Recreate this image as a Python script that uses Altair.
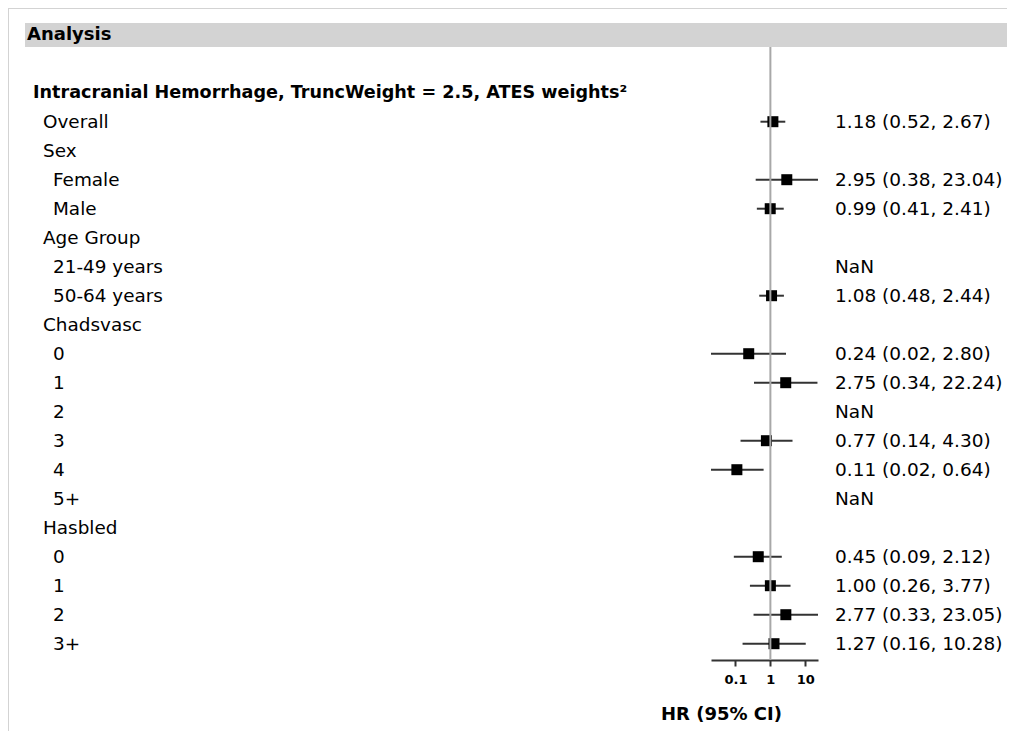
import altair as alt
import pandas as pd

# ---- data ----
HEADER = "Analysis"
AXIS_TITLE = "HR (95% CI)"
row_labels = [
    "Intracranial Hemorrhage, TruncWeight = 2.5, ATES weights²",
    "Overall", "Sex", "Female", "Male", "Age Group", "21-49 years", "50-64 years",
    "Chadsvasc", "0", "1", "2", "3", "4", "5+",
    "Hasbled", "0", "1", "2", "3+",
]
row_level = [0, 1, 1, 2, 2, 1, 2, 2, 1, 2, 2, 2, 2, 2, 2, 1, 2, 2, 2, 2]
hr = [None, 1.18, None, 2.95, 0.99, None, None, 1.08, None, 0.24, 2.75, None, 0.77, 0.11, None,
      None, 0.45, 1.00, 2.77, 1.27]
ci_lower = [None, 0.52, None, 0.38, 0.41, None, None, 0.48, None, 0.02, 0.34, None, 0.14, 0.02, None,
            None, 0.09, 0.26, 0.33, 0.16]
ci_upper = [None, 2.67, None, 23.04, 2.41, None, None, 2.44, None, 2.80, 22.24, None, 4.30, 0.64, None,
            None, 2.12, 3.77, 23.05, 10.28]
x_ticks = [0.1, 1, 10]
x_domain = [0.02, 23.05]

def value_text(h, lo, up, lvl):
    if h is not None:
        return f"{h:.2f} ({lo:.2f}, {up:.2f})"
    return "NaN" if lvl == 2 else ""

df = pd.DataFrame({
    "row": list(range(len(row_labels))),
    "label": row_labels,
    "level": row_level,
    "hr": hr,
    "lo": ci_lower,
    "up": ci_upper,
})
df["vtext"] = [value_text(h, l, u, v) for h, l, u, v in zip(hr, ci_lower, ci_upper, row_level)]

W, H = 999, 652
FONT = "DejaVu Sans"
one = pd.DataFrame({"k": [0]})

xscale = alt.Scale(type="log", domain=x_domain, range=[703, 810], nice=False, zero=False)
yscale = alt.Scale(domain=[0, len(row_labels) - 1], range=[84.7, 84.7 + 29 * (len(row_labels) - 1)])
xaxis = alt.Axis(values=x_ticks, format=".1~f", title=None, grid=False,
                 domainColor="#333333", domainWidth=2, tickColor="#333333", tickWidth=2,
                 tickSize=6, labelFont=FONT, labelFontSize=13, labelFontWeight="bold",
                 labelColor="black", labelPadding=7, labelFlush=False, labelOverlap=False)

base = alt.Chart(df)

border_left = alt.Chart(one).mark_rule(color="#d3d3d3", strokeWidth=2).encode(
    x=alt.value(0), y=alt.value(0), y2=alt.value(740))
border_top = alt.Chart(one).mark_rule(color="#d3d3d3", strokeWidth=2).encode(
    x=alt.value(0), x2=alt.value(W), y=alt.value(0))
header_band = alt.Chart(one).mark_rect(color="#d3d3d3").encode(
    x=alt.value(17), x2=alt.value(1003), y=alt.value(15), y2=alt.value(39))
header_text = alt.Chart(one).mark_text(
    text=HEADER, align="left", baseline="middle", font=FONT, fontSize=18, fontWeight="bold",
    color="black").encode(x=alt.value(19), y=alt.value(27))

ci = base.transform_filter("isValid(datum.hr)").mark_rule(color="#333333", strokeWidth=2).encode(
    x=alt.X("lo:Q", scale=xscale, axis=xaxis),
    x2="up:Q",
    y=alt.Y("row:Q", scale=yscale, axis=None),
)
squares = base.transform_filter("isValid(datum.hr)").mark_point(
    shape="square", filled=True, size=121, color="black", opacity=1).encode(
    x=alt.X("hr:Q", scale=xscale, axis=xaxis),
    y=alt.Y("row:Q", scale=yscale, axis=None),
)
refline = alt.Chart(one).mark_rule(color="#a8a8a8", strokeWidth=2).encode(
    x=alt.X(datum=1, scale=xscale, axis=xaxis), y=alt.value(39), y2=alt.value(H))

indent = {0: 25, 1: 35, 2: 45}
label_size = {0: 17.6, 1: 18.4, 2: 18.4}
label_layers = []
for lvl in [0, 1, 2]:
    label_layers.append(
        base.transform_filter(f"datum.level == {lvl}").mark_text(
            align="left", baseline="middle", font=FONT, fontSize=label_size[lvl],
            fontWeight="bold" if lvl == 0 else "normal", color="black").encode(
            x=alt.value(indent[lvl]),
            y=alt.Y("row:Q", scale=yscale, axis=None),
            text="label:N")
    )
values = base.mark_text(align="left", baseline="middle", font=FONT, fontSize=18.5, color="black").encode(
    x=alt.value(827), y=alt.Y("row:Q", scale=yscale, axis=None), text="vtext:N")
axis_title = alt.Chart(one).mark_text(
    text=AXIS_TITLE, align="center", baseline="middle", font=FONT, fontSize=18, fontWeight="bold",
    color="black").encode(x=alt.value(713.5), y=alt.value(707))

chart = alt.layer(
    border_left, border_top, header_band, header_text,
    ci, squares, refline, *label_layers, values, axis_title,
).properties(
    width=W, height=H,
    autosize=alt.AutoSizeParams(type="none"),
    padding={"left": 0, "top": 0, "right": 0, "bottom": 71},
).configure(font=FONT).configure_view(stroke=None)

chart.save("out.html", embed_options={"renderer": "svg", "actions": False})
